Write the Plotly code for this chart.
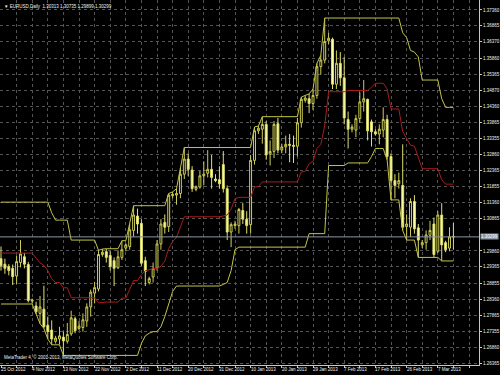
import plotly.graph_objects as go
import pandas as pd

# ---------------- data ----------------
date_labels = ["25 Oct 2012", "4 Nov 2012", "13 Nov 2012", "22 Nov 2012", "2 Dec 2012",
               "11 Dec 2012", "20 Dec 2012", "31 Dec 2012", "10 Jan 2013", "20 Jan 2013",
               "29 Jan 2013", "7 Feb 2013", "17 Feb 2013", "26 Feb 2013", "7 Mar 2013"]

price_labels = ["1.37360", "1.36865", "1.36370", "1.35860", "1.35365", "1.34870", "1.34360",
                "1.33865", "1.33355", "1.32860", "1.32365", "1.31855", "1.31360", "1.30865",
                "1.29860", "1.29365", "1.28855", "1.28360", "1.27865", "1.27355", "1.26860",
                "1.26365"]

opens = [1.2962, 1.2945, 1.2938, 1.2932, 1.2908, 1.2950, 1.2968, 1.2944, 1.2830, 1.2815,
         1.2792, 1.2805, 1.2755, 1.2740, 1.2705, 1.2712, 1.2718, 1.2705, 1.2728, 1.2775,
         1.2745, 1.2748, 1.2768, 1.2812, 1.2855, 1.2868, 1.2975, 1.2984, 1.2972, 1.2956,
         1.2934, 1.2966, 1.2995, 1.3000, 1.3050, 1.3095, 1.3072, 1.2956, 1.2888, 1.2905,
         1.2932, 1.3008, 1.3075, 1.3062, 1.3158, 1.3160, 1.3165, 1.3225, 1.3272, 1.3238,
         1.3178, 1.3185, 1.3220, 1.3228, 1.3240, 1.3210, 1.3208, 1.3255, 1.3180, 1.3045,
         1.3065, 1.3065, 1.3112, 1.3085, 1.3068, 1.3268, 1.3360, 1.3365, 1.3380, 1.3288,
         1.3296, 1.3382, 1.3300, 1.3310, 1.3318, 1.3315, 1.3312, 1.3385, 1.3455, 1.3460,
         1.3445, 1.3470, 1.3560, 1.3580, 1.3640, 1.3645, 1.3505, 1.3570, 1.3525, 1.3395,
         1.3365, 1.3362, 1.3398, 1.3450, 1.3458, 1.3388, 1.3357, 1.3350, 1.3362, 1.3395,
         1.3280, 1.3205, 1.3195, 1.3190, 1.3062, 1.3060, 1.3140, 1.3058, 1.3005, 1.3012,
         1.3035, 1.3070, 1.2985, 1.3098, 1.3012, 1.2995, 1.30313]

highs = [1.3000, 1.2962, 1.2945, 1.2944, 1.2972, 1.3020, 1.2980, 1.2952, 1.2838, 1.2828,
         1.2846, 1.2878, 1.2782, 1.2770, 1.2722, 1.2750, 1.2735, 1.2762, 1.2800, 1.2782,
         1.2768, 1.2792, 1.2823, 1.2866, 1.2890, 1.2988, 1.2992, 1.2993, 1.2986, 1.2966,
         1.2988, 1.3018, 1.3010, 1.3072, 1.3127, 1.3118, 1.3085, 1.2968, 1.2906, 1.2950,
         1.3020, 1.3085, 1.3100, 1.3165, 1.3170, 1.3180, 1.3245, 1.3308, 1.3290, 1.3250,
         1.3190, 1.3235, 1.3265, 1.3300, 1.3285, 1.3225, 1.3250, 1.3297, 1.3190, 1.3075,
         1.3080, 1.3120, 1.3135, 1.3110, 1.3285, 1.3372, 1.3375, 1.3404, 1.3390, 1.3330,
         1.3390, 1.3400, 1.3320, 1.3345, 1.3350, 1.3345, 1.3400, 1.3465, 1.3470, 1.3475,
         1.3490, 1.3570, 1.3595, 1.3711, 1.3665, 1.3650, 1.3610, 1.3605, 1.3590, 1.3420,
         1.3380, 1.3410, 1.3480, 1.3518, 1.3460, 1.3395, 1.3365, 1.3380, 1.3433, 1.3410,
         1.3290, 1.3225, 1.3230, 1.3318, 1.3100, 1.3150, 1.3160, 1.3070, 1.3020, 1.3050,
         1.3080, 1.3090, 1.3110, 1.3135, 1.3018, 1.3060, 1.30735]

lows = [1.2925, 1.2915, 1.2910, 1.2880, 1.2883, 1.2935, 1.2932, 1.2826, 1.2822, 1.2790,
        1.2760, 1.2745, 1.2712, 1.2694, 1.2698, 1.2695, 1.2661, 1.2698, 1.2722, 1.2730,
        1.2740, 1.2735, 1.2750, 1.2782, 1.2823, 1.2860, 1.2968, 1.2950, 1.2925, 1.2877,
        1.2930, 1.2958, 1.2985, 1.2990, 1.3030, 1.3040, 1.2940, 1.2877, 1.2882, 1.2888,
        1.2925, 1.2990, 1.3040, 1.3045, 1.3150, 1.3130, 1.3150, 1.3210, 1.3220, 1.3170,
        1.3172, 1.3180, 1.3190, 1.3215, 1.3180, 1.3200, 1.3180, 1.3168, 1.3020, 1.2998,
        1.3055, 1.3040, 1.3070, 1.3040, 1.3040, 1.3255, 1.3350, 1.3320, 1.3270, 1.3252,
        1.3275, 1.3290, 1.3290, 1.3290, 1.3262, 1.3260, 1.3280, 1.3370, 1.3448, 1.3415,
        1.3425, 1.3460, 1.3535, 1.3570, 1.3630, 1.3490, 1.3490, 1.3500, 1.3380, 1.3305,
        1.3355, 1.3340, 1.3385, 1.3420, 1.3330, 1.3311, 1.3345, 1.3318, 1.3340, 1.3270,
        1.3145, 1.3150, 1.3180, 1.3050, 1.3020, 1.3030, 1.3040, 1.2966, 1.2995, 1.2990,
        1.3020, 1.2966, 1.2980, 1.2955, 1.2982, 1.2985, 1.29899]

closes = [1.2940, 1.2932, 1.2925, 1.2906, 1.2953, 1.2977, 1.2945, 1.2832, 1.2833, 1.2797,
          1.2812, 1.2750, 1.2735, 1.2712, 1.2715, 1.2722, 1.2706, 1.2726, 1.2778, 1.2738,
          1.2752, 1.2772, 1.2812, 1.2858, 1.2872, 1.2975, 1.2982, 1.2966, 1.2937, 1.2932,
          1.2968, 1.2990, 1.3005, 1.3052, 1.3098, 1.3070, 1.2948, 1.2922, 1.2900, 1.2932,
          1.3008, 1.3070, 1.3060, 1.3160, 1.3162, 1.3165, 1.3225, 1.3272, 1.3240, 1.3180,
          1.3186, 1.3220, 1.3225, 1.3240, 1.3215, 1.3205, 1.3195, 1.3180, 1.3045, 1.3068,
          1.3070, 1.3115, 1.3085, 1.3065, 1.3268, 1.3360, 1.3368, 1.3380, 1.3285, 1.3296,
          1.3380, 1.3300, 1.3310, 1.3318, 1.3315, 1.3312, 1.3385, 1.3458, 1.3462, 1.3445,
          1.3470, 1.3560, 1.3580, 1.3638, 1.3648, 1.3505, 1.3570, 1.3525, 1.3400, 1.3365,
          1.3372, 1.3398, 1.3450, 1.3460, 1.3360, 1.3357, 1.3350, 1.3365, 1.3395, 1.3280,
          1.3205, 1.3190, 1.3205, 1.3060, 1.3070, 1.3140, 1.3055, 1.3020, 1.3012, 1.3036,
          1.3050, 1.2975, 1.3098, 1.3005, 1.2990, 1.3030, 1.30299]

# 20 bars before the first visible bar (off screen, only feed the channel)
prior_highs = [1.2970, 1.2945, 1.2960, 1.3000, 1.2990, 1.2985, 1.2950, 1.2930, 1.2950, 1.2980,
               1.2960, 1.3000, 1.3060, 1.3138, 1.3105, 1.3075, 1.3040, 1.3060, 1.3082, 1.3010]
prior_lows = [1.2860, 1.2830, 1.2880, 1.2930, 1.2970, 1.2900, 1.2880, 1.2840, 1.2870, 1.2821,
              1.2930, 1.2930, 1.2960, 1.3030, 1.3040, 1.3000, 1.3010, 1.2990, 1.3010, 1.2950]

channel_period = 20
bars_per_label = 8

# ---------------- Donchian channel ----------------
n = len(closes)
all_h = pd.Series(prior_highs + highs)
all_l = pd.Series(prior_lows + lows)
upper = all_h.rolling(channel_period).max().iloc[-n:].tolist()
lower = all_l.rolling(channel_period).min().iloc[-n:].tolist()
middle = [(u + l) / 2 for u, l in zip(upper, lower)]
bars = list(range(n))

# ---------------- styles ----------------
GRID = "#545454"
AXIS = "#c8c8c8"
TXT = "#f0f0f0"
FONT = "Liberation Sans"
CH_COL = "#c4c448"
MID_COL = "#a81c1c"
BID_COL = "#8a96a3"

fig = go.Figure()
fig.add_trace(go.Candlestick(
    x=bars, open=opens, high=highs, low=lows, close=closes,
    increasing=dict(line=dict(color="#cdcd55", width=1), fillcolor="#000000"),
    decreasing=dict(line=dict(color="#dede70", width=1), fillcolor="#ffffa8"),
    whiskerwidth=0, hoverinfo="skip"))
fig.add_trace(go.Scatter(x=bars, y=upper, mode="lines", line=dict(color=CH_COL, width=1), hoverinfo="skip"))
fig.add_trace(go.Scatter(x=bars, y=lower, mode="lines", line=dict(color=CH_COL, width=1), hoverinfo="skip"))
fig.add_trace(go.Scatter(x=bars, y=middle, mode="lines", line=dict(color=MID_COL, width=1), hoverinfo="skip"))

# x ticks/grid every 4 bars; date text every 8 bars (drawn left-aligned at the tick)
x_tickvals = list(range(0, 121, 4))
label_bars = [k * bars_per_label for k in range(len(date_labels))]

y_tickvals = [float(s) for s in price_labels]

last_close = closes[-1]
fig.add_shape(type="line", xref="paper", x0=0, x1=1, yref="y", y0=last_close, y1=last_close,
              line=dict(color=BID_COL, width=1))

fig.update_layout(
    width=500, height=375,
    margin=dict(l=0, r=21, t=0, b=10, autoexpand=False),
    paper_bgcolor="black", plot_bgcolor="black",
    showlegend=False,
    font=dict(family=FONT, size=4.5, color=TXT),
    xaxis=dict(
        range=[-0.256, 122.56], rangeslider=dict(visible=False), automargin=False,
        tickmode="array", tickvals=x_tickvals, showticklabels=False,
        ticks="outside", ticklen=2, tickcolor=AXIS,
        showgrid=True, gridcolor=GRID, griddash="3px,3px", gridwidth=1,
        showline=True, linecolor=AXIS, linewidth=1, zeroline=False),
    yaxis=dict(
        side="right", range=[1.26312, 1.37671], automargin=False,
        tickmode="array", tickvals=y_tickvals, ticktext=price_labels,
        ticks="outside", ticklen=2, tickcolor=AXIS, tickfont=dict(size=4.5, color=TXT, family=FONT),
        showgrid=True, gridcolor=GRID, griddash="3px,3px", gridwidth=1,
        showline=True, linecolor=AXIS, linewidth=1, zeroline=False),
)

for b, lab in zip(label_bars, date_labels):
    fig.add_annotation(xref="x", x=b, xanchor="left", xshift=-1, yref="paper", y=0, yanchor="top",
                       yshift=-1, text=lab, showarrow=False, borderpad=0,
                       font=dict(size=4.5, color=TXT, family=FONT))

# current bid price label on the price scale
fig.add_annotation(xref="paper", x=1, xanchor="left", xshift=1, yref="y", y=last_close,
                   text=f"{last_close:.5f}", showarrow=False, bgcolor=BID_COL, borderpad=0,
                   font=dict(size=4.5, color="#ffffff", family=FONT))

# symbol / timeframe header with OHLC of the last bar
fig.add_annotation(xref="paper", x=0, xanchor="left", xshift=2, yref="paper", y=1, yanchor="top", yshift=-2,
                   text=f"▼ EURUSD,Daily  {opens[-1]:.5f} {highs[-1]:.5f} {lows[-1]:.5f} {closes[-1]:.5f}",
                   showarrow=False, font=dict(size=4.5, color=TXT, family=FONT))

# copyright line
fig.add_annotation(xref="paper", x=0, xanchor="left", xshift=2, yref="paper", y=0, yanchor="bottom", yshift=3,
                   text="MetaTrader 4, © 2001-2013, MetaQuotes Software Corp.",
                   showarrow=False, font=dict(size=4.5, color=TXT, family=FONT))

fig.write_html("out.html")
